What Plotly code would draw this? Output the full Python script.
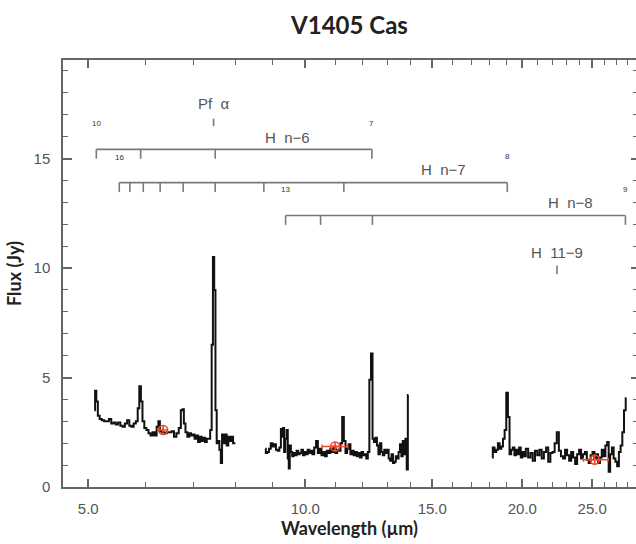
import math
import plotly.graph_objects as go

# ---------------- data ----------------
seg1_wl = [5.10, 5.12, 5.14, 5.17, 5.20, 5.24, 5.28, 5.32, 5.36, 5.40, 5.44, 5.48, 5.52, 5.56,
           5.60, 5.64, 5.68, 5.72, 5.76, 5.80, 5.84, 5.87, 5.90, 5.93, 5.96, 6.00, 6.04, 6.08,
           6.12, 6.16, 6.20, 6.24, 6.27, 6.30, 6.35, 6.40, 6.45, 6.50, 6.55, 6.60, 6.65, 6.70,
           6.74, 6.77, 6.80, 6.84, 6.88, 6.92, 6.96, 7.00, 7.04, 7.08, 7.12, 7.16, 7.20, 7.24,
           7.28, 7.32, 7.36, 7.40, 7.43, 7.46, 7.49, 7.52, 7.55, 7.58, 7.62, 7.65, 7.68, 7.72,
           7.76, 7.80, 7.84, 7.88, 7.92, 7.96, 8.00]
seg1_flux = [3.5, 4.4, 3.9, 3.25, 3.1, 3.05, 3.0, 3.0, 3.1, 2.9, 2.95, 2.85, 2.95, 2.8,
             2.75, 2.9, 3.05, 2.8, 2.75, 2.9, 3.0, 3.6, 4.6, 3.9, 3.0, 2.7, 2.6, 2.45,
             2.35, 2.5, 2.35, 2.75, 3.0, 2.55, 2.5, 2.45, 2.5, 2.5, 2.55, 2.3, 2.45, 2.7,
             3.5, 3.55, 2.9, 2.5, 2.3, 2.45, 2.35, 2.4, 2.2, 2.35, 2.05, 2.3, 2.1, 2.25,
             2.05, 2.2, 2.2, 2.6, 6.5, 10.5, 9.0, 3.5, 2.0, 2.1, 1.7, 1.1, 2.4, 2.0,
             2.4, 1.9, 2.3, 2.1, 2.3, 2.0, 2.0]

seg2_wl = [8.80, 8.83, 8.88, 8.93, 8.98, 9.03, 9.08, 9.13, 9.18, 9.23, 9.27, 9.30, 9.33, 9.36,
           9.40, 9.44, 9.47, 9.50, 9.53, 9.57, 9.61, 9.65, 9.70, 9.75, 9.80, 9.85, 9.90, 9.95,
           10.00, 10.05, 10.10, 10.15, 10.20, 10.26, 10.32, 10.38, 10.44, 10.50, 10.56, 10.62,
           10.68, 10.74, 10.80, 10.86, 10.92, 10.98, 11.04, 11.10, 11.16, 11.22, 11.28, 11.34,
           11.40, 11.46, 11.52, 11.58, 11.64, 11.70, 11.76, 11.82, 11.88, 11.94, 12.00, 12.06,
           12.12, 12.18, 12.24, 12.30, 12.37, 12.42, 12.48, 12.54, 12.60, 12.66, 12.72, 12.78,
           12.84, 12.90, 12.96, 13.02, 13.08, 13.14, 13.20, 13.26, 13.32, 13.38, 13.44, 13.50,
           13.56, 13.62, 13.68, 13.74, 13.80, 13.85, 13.90]
seg2_flux = [1.75, 1.55, 1.6, 1.75, 2.0, 1.85, 1.95, 1.7, 1.65, 1.8, 2.65, 2.3, 2.7, 1.6,
             2.2, 2.6, 1.3, 0.85, 1.9, 1.6, 1.4, 1.55, 1.45, 1.65, 1.5, 1.55, 1.7, 1.45,
             1.6, 1.5, 1.7, 1.55, 1.65, 1.5, 1.8, 2.1, 1.55, 1.75, 1.45, 1.6,
             1.4, 1.65, 1.55, 1.75, 1.6, 1.85, 1.55, 1.7, 1.65, 2.0, 3.2, 2.1,
             1.55, 1.75, 1.95, 1.5, 1.65, 1.45, 1.6, 1.4, 1.55, 1.35, 1.6, 1.45,
             1.5, 1.3, 1.6, 4.9, 6.1, 2.2, 2.05, 2.25, 1.9, 1.5, 2.0, 1.6,
             1.45, 1.7, 1.55, 1.7, 1.3, 1.2, 1.5, 1.1, 1.15, 1.4, 1.3, 1.6,
             1.95, 1.4, 2.1, 1.5, 2.2, 0.8, 4.2]

seg3_wl = [18.15, 18.25, 18.35, 18.45, 18.55, 18.65, 18.75, 18.85, 18.95, 19.05, 19.15, 19.25,
           19.35, 19.45, 19.55, 19.65, 19.75, 19.85, 19.95, 20.05, 20.15, 20.30, 20.45, 20.60,
           20.75, 20.90, 21.05, 21.20, 21.35, 21.50, 21.65, 21.80, 21.95, 22.10, 22.25, 22.40,
           22.55, 22.70, 22.85, 23.00, 23.15, 23.30, 23.45, 23.60, 23.75, 23.90, 24.05, 24.20,
           24.35, 24.50, 24.65, 24.80, 24.95, 25.10, 25.25, 25.40, 25.55, 25.70, 25.85, 26.00,
           26.15, 26.30, 26.40, 26.55, 26.70, 26.85, 27.00, 27.15, 27.30, 27.45, 27.60, 27.75,
           27.90]
seg3_flux = [1.35, 1.8, 1.6, 1.7, 2.0, 1.75, 1.85, 2.2, 2.6, 4.3, 3.2, 1.5,
             1.7, 1.8, 1.45, 1.7, 1.5, 1.8, 1.35, 1.6, 1.4, 1.75, 1.35, 1.55,
             1.2, 1.65, 1.45, 1.7, 1.3, 1.6, 1.8, 1.15, 1.55, 1.6, 2.0, 2.5,
             1.65, 1.4, 1.3, 1.7, 1.45, 1.2, 1.6, 1.35, 1.05, 1.5, 1.7, 1.3,
             1.5, 1.6, 1.25, 1.1, 1.45, 1.6, 1.3, 1.5, 1.1, 1.35, 1.7, 1.4,
             1.9, 2.05, 0.7, 1.5, 1.8, 1.3, 1.15, 0.95, 1.6, 1.9, 2.5, 3.5,
             4.05]

# photometry points (red)
phot_wl = [6.35, 11.0, 25.2]
phot_flux = [2.6, 1.85, 1.25]
phot_err_minus = [0.0, 0.45, 0.9]
phot_err_plus = [0.0, 0.45, 1.1]

# hydrogen line identifications (µm)
hn6_wl = [5.13, 5.91, 7.50, 12.37]
hn7_wl = [5.52, 5.71, 5.96, 6.29, 6.77, 7.50, 8.76, 11.31, 19.06]
hn8_wl = [9.39, 10.50, 12.39, 27.80]
pfa_wl = 7.46
h11_9_wl = 22.34

bracket_levels = [15.42, 13.90, 12.40]   # flux level of each series bar
tick_drop = 0.43

x_major = [5, 10, 15, 20, 25]
x_major_text = ["5.0", "10.0", "15.0", "20.0", "25.0"]
x_minor = [6, 7, 8, 9, 11, 12, 13, 14, 16, 17, 18, 19, 21, 22, 23, 24, 26, 27, 28]

X_RANGE = [0.6639, 1.4587]
Y_RANGE = [0, 19.5]

# ---------------- figure ----------------
fig = go.Figure()

gray_line = "#7a7a7a"

def bracket(wls, level):
    xs, ys = [wls[0], wls[-1], None], [level, level, None]
    for w in wls:
        xs += [w, w, None]
        ys += [level, level - tick_drop, None]
    return xs, ys

for wls, lev in zip([hn6_wl, hn7_wl, hn8_wl], bracket_levels):
    bx, by = bracket(wls, lev)
    fig.add_trace(go.Scatter(x=bx, y=by, mode="lines",
                             line=dict(color=gray_line, width=1.6),
                             hoverinfo="skip", showlegend=False))

# single-line ticks
fig.add_trace(go.Scatter(x=[pfa_wl, pfa_wl, None, h11_9_wl, h11_9_wl],
                         y=[16.48, 16.82, None, 9.72, 10.12], mode="lines",
                         line=dict(color=gray_line, width=1.6),
                         hoverinfo="skip", showlegend=False))

# spectrum segments
for wl, fl in [(seg1_wl, seg1_flux), (seg2_wl, seg2_flux), (seg3_wl, seg3_flux)]:
    fig.add_trace(go.Scatter(x=wl, y=fl, mode="lines",
                             line=dict(color="#111111", width=2, shape="hvh"),
                             showlegend=False))

# photometry
fig.add_trace(go.Scatter(
    x=phot_wl, y=phot_flux, mode="markers",
    marker=dict(symbol="circle-cross-open", size=9, color="#ee4a2a",
                line=dict(width=1.6, color="#ee4a2a")),
    error_x=dict(type="data", symmetric=False, array=phot_err_plus,
                 arrayminus=phot_err_minus, color="#ee4a2a", thickness=1.5, width=2),
    showlegend=False))

# invisible trace so the top/right tick axes get drawn
fig.add_trace(go.Scatter(x=[10], y=[5], xaxis="x2", yaxis="y2", mode="markers",
                         marker=dict(opacity=0), hoverinfo="skip", showlegend=False))

ann_font = dict(family="Liberation Sans, Arial, sans-serif", size=15, color="#555555")
small_font = dict(family="Liberation Sans, Arial, sans-serif", size=8, color="#333333")

labels = [
    ("Pf  α", pfa_wl, 17.5, ann_font),
    ("H  n−6", 9.44, 15.96, ann_font),
    ("H  n−7", 15.54, 14.5, ann_font),
    ("H  n−8", 23.3, 13.0, ann_font),
    ("H  11−9", h11_9_wl, 10.7, ann_font),
    ("10", hn6_wl[0], 16.6, small_font),
    ("7", hn6_wl[-1], 16.6, small_font),
    ("16", hn7_wl[0], 15.05, small_font),
    ("8", hn7_wl[-1], 15.1, small_font),
    ("13", hn8_wl[0], 13.6, small_font),
    ("9", hn8_wl[-1], 13.6, small_font),
]
for txt, lx, ly, f in labels:
    fig.add_annotation(x=math.log10(lx), y=ly, xref="x", yref="y",
                       text=txt, showarrow=False, font=f,
                       xanchor="center", yanchor="middle")

axis_color = "#666666"
tick_font = dict(family="Liberation Sans, Arial, sans-serif", size=15, color="#555555")
title_font = dict(family="Lato, Open Sans, sans-serif", size=18, color="#222222")

fig.update_layout(
    width=636, height=544,
    margin=dict(l=63, r=0, t=60, b=57, autoexpand=False),
    paper_bgcolor="white", plot_bgcolor="white",
    title=dict(text="<b>V1405 Cas</b>", x=0.5, xref="paper", y=1 - 26 / 544,
               yref="container", xanchor="center", yanchor="middle",
               font=dict(family="Lato, Open Sans, sans-serif", size=24, color="#222222")),
    xaxis=dict(
        type="log", range=X_RANGE,
        tickmode="array", tickvals=x_major, ticktext=x_major_text,
        ticks="inside", ticklen=8, tickwidth=1.5, tickcolor=axis_color,
        showline=True, linecolor=axis_color, linewidth=1.5, mirror=False,
        showgrid=False, zeroline=False, tickfont=tick_font, ticklabelstandoff=7,
        minor=dict(tickmode="array", tickvals=x_minor, ticks="inside", ticklen=5,
                   tickwidth=1.3, tickcolor=axis_color, showgrid=False),
        title=dict(text="<b>Wavelength (µm)</b>", standoff=5, font=title_font),
    ),
    yaxis=dict(
        range=Y_RANGE, tickmode="linear", tick0=0, dtick=5,
        ticks="inside", ticklen=9, tickwidth=1.5, tickcolor=axis_color,
        showline=True, linecolor=axis_color, linewidth=1.5, mirror=False,
        showgrid=False, zeroline=False, tickfont=tick_font, ticklabelstandoff=8,
        minor=dict(dtick=1, ticks="inside", ticklen=5, tickwidth=1.3,
                   tickcolor=axis_color, showgrid=False),
        title=dict(text="<b>Flux (Jy)</b>", standoff=7, font=title_font),
    ),
    xaxis2=dict(
        type="log", range=X_RANGE, overlaying="x", side="top", anchor="y2",
        tickmode="array", tickvals=x_major, showticklabels=False,
        ticks="inside", ticklen=8, tickwidth=1.5, tickcolor=axis_color,
        showline=True, linecolor=axis_color, linewidth=1.5,
        showgrid=False, zeroline=False,
        minor=dict(tickmode="array", tickvals=x_minor, ticks="inside", ticklen=5,
                   tickwidth=1.3, tickcolor=axis_color, showgrid=False),
    ),
    yaxis2=dict(
        range=Y_RANGE, overlaying="y", side="right", anchor="x2",
        tickmode="linear", tick0=0, dtick=5, showticklabels=False,
        ticks="inside", ticklen=5, tickwidth=1.5, tickcolor=axis_color,
        showline=False, showgrid=False, zeroline=False,
        minor=dict(dtick=1, ticks="inside", ticklen=3, tickwidth=1.3,
                   tickcolor=axis_color, showgrid=False),
    ),
)

# remove the browser's default 8px body margin so the figure sits at the page corner
fig.write_html("out.html", config={"displayModeBar": False},
               post_script="document.body.style.margin='0';")
